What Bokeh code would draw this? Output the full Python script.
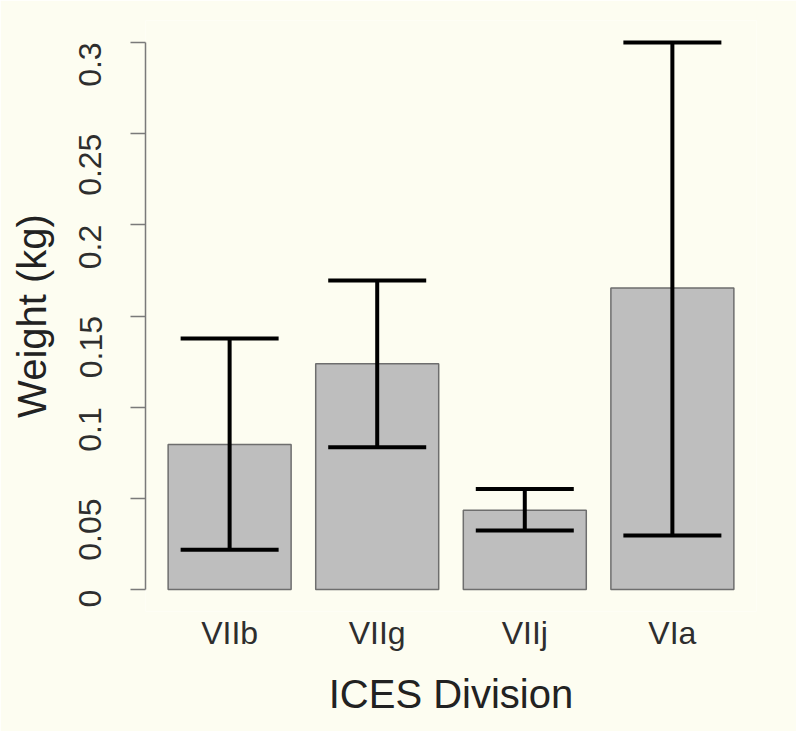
import math
from bokeh.plotting import figure
from bokeh.models import FactorRange, Range1d, Whisker, ColumnDataSource, FixedTicker, NumeralTickFormatter, TeeHead
from bokeh.embed import file_html
from bokeh.resources import INLINE

categories = ["VIIb", "VIIg", "VIIj", "VIa"]
mean_weight = [0.0795, 0.1238, 0.0435, 0.1653]
lower_ci = [0.0218, 0.0780, 0.0324, 0.0296]
upper_ci = [0.1377, 0.1695, 0.0552, 0.2999]
y_ticks = [0, 0.05, 0.1, 0.15, 0.2, 0.25, 0.3]

BG = "#fdfdf1"
FONT = "Liberation Sans"

src = ColumnDataSource(dict(cat=categories, mean=mean_weight, lo=lower_ci, hi=upper_ci))

p = figure(
    width=796, height=731,
    x_range=FactorRange(*categories, range_padding=0.035),
    y_range=Range1d(-0.012, 0.312),
    output_backend="svg", toolbar_location=None,
    min_border_left=145, min_border_right=40, min_border_top=20, min_border_bottom=120,
    background_fill_color=BG, border_fill_color=BG,
)
p.outline_line_color = None
p.grid.visible = False

p.vbar(x="cat", top="mean", bottom=0, width=1 / 1.2, source=src,
       fill_color="#bebebe", line_color="#6e6e6e", line_width=1.5)

w = Whisker(base="cat", lower="lo", upper="hi", source=src, level="overlay",
            line_color="black", line_width=4,
            upper_head=TeeHead(size=98, line_color="black", line_width=4),
            lower_head=TeeHead(size=98, line_color="black", line_width=4))
p.add_layout(w)

# y axis
ya = p.yaxis[0]
ya.ticker = FixedTicker(ticks=y_ticks)
ya.formatter = NumeralTickFormatter(format="0.[00]")
ya.bounds = (0, 0.3)
ya.axis_line_color = "#7a7a7a"
ya.axis_line_width = 1.5
ya.major_tick_line_color = "#7a7a7a"
ya.major_tick_line_width = 1.5
ya.major_tick_out = 15
ya.major_tick_in = 0
ya.minor_tick_line_color = None
ya.major_label_orientation = math.pi / 2
ya.major_label_text_font = FONT
ya.major_label_text_font_size = "32px"
ya.major_label_text_color = "#2e2e2e"
ya.major_label_standoff = 40
ya.axis_label = "Weight (kg)"
ya.axis_label_text_font = FONT
ya.axis_label_text_font_size = "40px"
ya.axis_label_text_font_style = "normal"
ya.axis_label_text_color = "#222222"
ya.axis_label_standoff = 12

# x axis
xa = p.xaxis[0]
xa.axis_line_color = None
xa.major_tick_line_color = None
xa.minor_tick_line_color = None
xa.major_label_text_font = FONT
xa.major_label_text_font_size = "32px"
xa.major_label_text_color = "#2e2e2e"
xa.major_label_standoff = -3
xa.axis_label = "ICES Division"
xa.axis_label_text_font = FONT
xa.axis_label_text_font_size = "40px"
xa.axis_label_text_font_style = "normal"
xa.axis_label_text_color = "#222222"
xa.axis_label_standoff = 18

open("out.html", "w").write(file_html(p, INLINE))
